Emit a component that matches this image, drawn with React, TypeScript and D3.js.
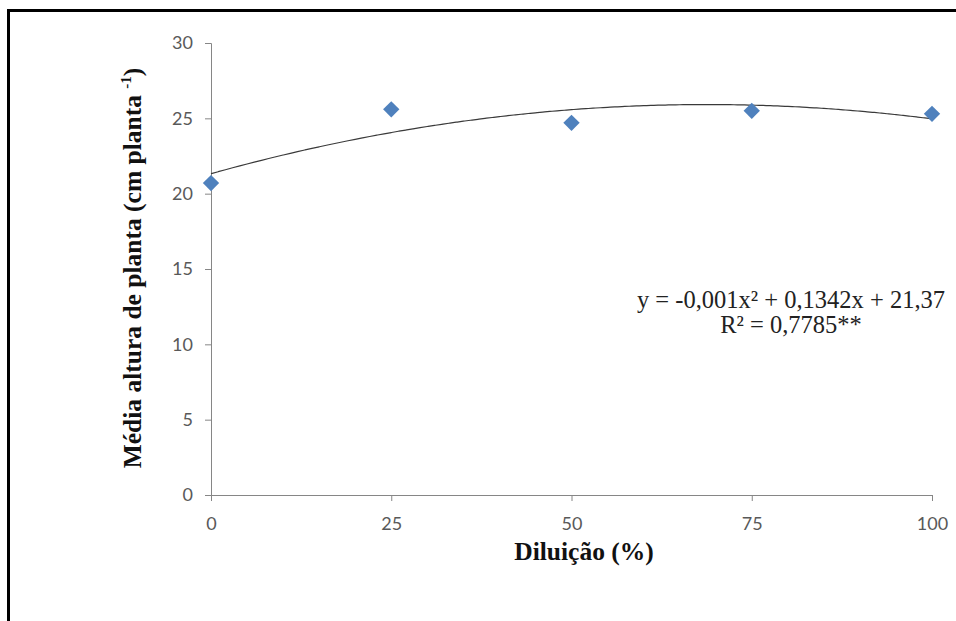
import React, { useEffect, useRef } from 'react';
import * as d3 from 'd3';

// dilution levels (%) and mean plant height
const diluicao = [0, 25, 50, 75, 100];
const altura = [20.7, 25.6, 24.7, 25.5, 25.3];
const xTicks = [0, 25, 50, 75, 100];
const yTicks = [0, 5, 10, 15, 20, 25, 30];
const equationLine1 = 'y = -0,001x² + 0,1342x + 21,37';
const equationLine2 = 'R² = 0,7785**';

// least squares quadratic, the same trendline Excel draws through the points
function quadFit(xs: number[], ys: number[]) {
  const n = xs.length;
  const s = (f: (x: number, y: number) => number) => d3.sum(xs, (x, i) => f(x, ys[i]));
  const sx = s(x => x), sx2 = s(x => x * x), sx3 = s(x => x ** 3), sx4 = s(x => x ** 4);
  const sy = s((x, y) => y), sxy = s((x, y) => x * y), sx2y = s((x, y) => x * x * y);
  const m = [
    [n, sx, sx2, sy],
    [sx, sx2, sx3, sxy],
    [sx2, sx3, sx4, sx2y],
  ];
  for (let i = 0; i < 3; i++) {
    for (let k = i + 1; k < 3; k++) {
      const f = m[k][i] / m[i][i];
      for (let j = i; j < 4; j++) m[k][j] -= f * m[i][j];
    }
  }
  const c = [0, 0, 0];
  for (let i = 2; i >= 0; i--) {
    let v = m[i][3];
    for (let j = i + 1; j < 3; j++) v -= m[i][j] * c[j];
    c[i] = v / m[i][i];
  }
  return (x: number) => c[0] + c[1] * x + c[2] * x * x;
}

const App = () => {
  const ref = useRef<SVGSVGElement>(null);

  useEffect(() => {
    const svg = d3.select(ref.current);
    svg.selectAll('*').remove();

    const width = 956;
    const height = 621;

    const x = d3.scaleLinear().domain([0, 100]).range([211, 932]);
    const y = d3.scaleLinear().domain([0, 30]).range([495, 43]);

    svg.append('rect')
      .attr('width', width)
      .attr('height', height)
      .attr('fill', '#fff');

    // frame around the figure (open to the right and bottom)
    svg.append('rect')
      .attr('x', 8.5)
      .attr('y', 10.5)
      .attr('width', 1200)
      .attr('height', 1200)
      .attr('fill', 'none')
      .attr('stroke', '#000')
      .attr('stroke-width', 3);

    const axisColor = '#868686';
    const tickFont = 'Lato, "Open Sans", sans-serif';

    const gy = svg.append('g')
      .attr('transform', `translate(${x(0)},0)`)
      .call(d3.axisLeft(y).tickValues(yTicks).tickSize(6).tickPadding(12).tickFormat(d3.format('d')));
    gy.select('.domain').attr('stroke', axisColor);
    gy.selectAll('.tick line').attr('stroke', axisColor);
    gy.selectAll('.tick text')
      .attr('fill', '#595959')
      .style('font', `18px ${tickFont}`);

    const gx = svg.append('g')
      .attr('transform', `translate(0,${y(0)})`)
      .call(d3.axisBottom(x).tickValues(xTicks).tickSize(6).tickPadding(16).tickFormat(d3.format('d')));
    gx.select('.domain').attr('stroke', axisColor);
    gx.selectAll('.tick line').attr('stroke', axisColor);
    gx.selectAll('.tick text')
      .attr('fill', '#595959')
      .style('font', `18px ${tickFont}`);

    // trendline
    const fit = quadFit(diluicao, altura);
    const curve = d3.range(0, 100.5, 1);
    svg.append('path')
      .datum(curve)
      .attr('fill', 'none')
      .attr('stroke', '#3a3a3a')
      .attr('stroke-width', 1.2)
      .attr('d', d3.line<number>().x(d => x(d)).y(d => y(fit(d))).curve(d3.curveBasis));

    // points
    svg.append('g')
      .selectAll('path')
      .data(diluicao)
      .join('path')
      .attr('transform', (d, i) => `translate(${x(d)},${y(altura[i])})`)
      .attr('d', d3.symbol().type(d3.symbolDiamond2).size(170))
      .attr('fill', '#4F81BD');

    const serif = '"Liberation Serif", "Times New Roman", serif';

    // regression equation
    const eq = svg.append('g')
      .attr('text-anchor', 'middle')
      .style('font', `24.5px ${serif}`)
      .attr('fill', '#222');
    eq.append('text').attr('x', 791).attr('y', 308).text(equationLine1);
    eq.append('text').attr('x', 791).attr('y', 333).text(equationLine2);

    // axis titles
    svg.append('text')
      .attr('x', 584)
      .attr('y', 560)
      .attr('text-anchor', 'middle')
      .style('font', `bold 25.5px ${serif}`)
      .attr('fill', '#111')
      .text('Diluição (%)');

    const yt = svg.append('text')
      .attr('transform', 'translate(141,268) rotate(-90)')
      .attr('text-anchor', 'middle')
      .style('font', `bold 25.5px ${serif}`)
      .attr('fill', '#111');
    yt.append('tspan').text('Média altura de planta (cm planta ');
    yt.append('tspan').attr('dy', -10).style('font-size', '15px').text('-1');
    yt.append('tspan').attr('dy', 10).text(')');
  }, []);

  return (
    <svg
      ref={ref}
      width="956"
      height="621"
      style={{ position: 'absolute', left: 0, top: 0 }}
    ></svg>
  );
};

export default App;
